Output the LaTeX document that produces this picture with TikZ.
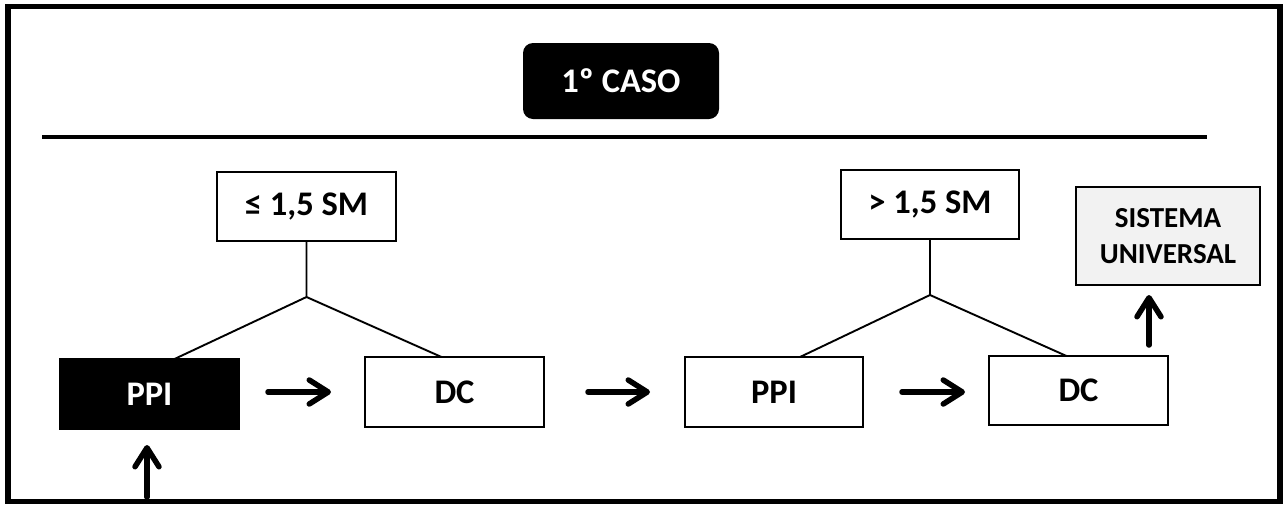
\documentclass[tikz,border=0pt]{standalone}
\usepackage{fontspec}
\setmainfont{Carlito}
\usetikzlibrary{arrows.meta}
\begin{document}
\begin{tikzpicture}[x=1pt,y=-1pt,
  base/.style={font=\fontsize{34.5}{40}\selectfont\bfseries, line width=2.6pt, inner sep=0pt, outer sep=0pt, align=center},
  wbox/.style={base, draw=black, fill=white, minimum height=70pt, minimum width=179pt},
  bbox/.style={wbox, fill=black, text=white},
  gbox/.style={base, draw=black, fill=black!5, font=\fontsize{29}{36}\selectfont\bfseries},
  tline/.style={line width=1.9pt},
  arr/.style={line width=5.5pt, line cap=round, -{Straight Barb[length=19pt,width=24pt,line cap=round,line join=round]}}
]
\useasboundingbox (0,0) rectangle (1283,504);
% frame and rule
\draw[line width=5.5pt] (8,6.5) rectangle (1280,501.5);
\draw[line width=4pt] (42,136.5) -- (1207,136.5);
% title
\node[base, fill=black, text=white, rounded corners=10pt, minimum width=196pt, minimum height=76pt] (title) at (621,81) {1º CASO};
% condition boxes
\node[wbox, minimum height=69pt] (le) at (306.5,206.5) {≤ 1,5 SM};
\node[wbox, minimum width=178pt, minimum height=69pt] (gt) at (930,204.5) {> 1,5 SM};
\node[gbox, minimum width=184pt, minimum height=98pt] (sis) at (1168,236) {SISTEMA\\UNIVERSAL};
% main row
\node[bbox] (ppi1) at (149.5,394) {PPI};
\node[wbox] (dc1) at (454.5,392) {DC};
\node[wbox, minimum width=178pt] (ppi2) at (774,392) {PPI};
\node[wbox, minimum height=69pt] (dc2) at (1078.5,390.5) {DC};
% tree connectors
\coordinate (j1) at (306.5,297);
\coordinate (j2) at (930,295);
\draw[tline] (le.south) -- (j1) -- ([xshift=25pt]ppi1.north);
\draw[tline] (j1) -- ([xshift=-13pt]dc1.north);
\draw[tline] (gt.south) -- (j2) -- ([xshift=26pt]ppi2.north);
\draw[tline] (j2) -- ([xshift=-12pt]dc2.north);
% arrows
\draw[arr] ([xshift=29pt,yshift=2pt]ppi1.east) -- ++(63pt,0);
\draw[arr] ([xshift=44pt]dc1.east) -- ++(62pt,0);
\draw[arr] ([xshift=39pt]ppi2.east) -- ++(63pt,0);
\draw[arr] ([xshift=70.5pt,yshift=11pt]dc2.north) -- ([xshift=-19pt,yshift=-10pt]sis.south);
\coordinate (b0) at (147,497);
\draw[arr] (b0) -- ([xshift=-2.5pt,yshift=-16pt]ppi1.south);
\end{tikzpicture}
\end{document}
